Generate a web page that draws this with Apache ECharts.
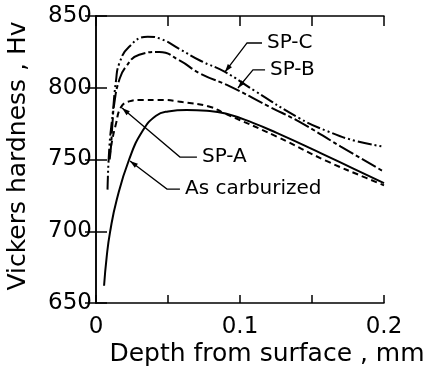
<!DOCTYPE html>
<html>
<head>
<meta charset="utf-8">
<title>Vickers hardness profile</title>
<script src="https://cdn.jsdelivr.net/npm/echarts@6/dist/echarts.min.js"></script>
<style>
  body { margin: 0; background: #fff; }
  #main { width: 429px; height: 372px; }
</style>
</head>
<body>
<div id="main"></div>
<script type="text/javascript">
// depth (mm) / hardness (Hv)
var asCarburized = [[0.0056,662],[0.0074,682],[0.0097,699],[0.0144,722],[0.023,750],[0.0324,770],
  [0.0417,780.5],[0.05,783.5],[0.063,784.5],[0.077,784],[0.09,782],[0.109,775.5],[0.1255,768.5],
  [0.156,754.5],[0.178,744],[0.2,733.5]];
var spA = [[0.0095,752],[0.0104,759],[0.0139,775],[0.0174,786.5],[0.023,790.5],[0.03,791.5],
  [0.045,791.5],[0.06,790],[0.079,786.8],[0.0885,782.5],[0.1255,766],[0.16,749],[0.188,737],[0.2,732]];
var spB = [[0.0095,750],[0.0104,759],[0.0115,776],[0.0127,789],[0.016,805],[0.0208,814.7],
  [0.03,823],[0.044,825],[0.058,819],[0.0722,810],[0.093,801],[0.12,787],[0.1417,776],
  [0.17,759],[0.2,741.5]];
var spC = [[0.008,729],[0.0093,759],[0.0116,782],[0.0139,805],[0.0162,817],[0.023,828.6],
  [0.0359,835.6],[0.045,834],[0.058,827],[0.0722,819],[0.0896,811],[0.11,798],[0.1417,778.5],
  [0.16,770],[0.18,763],[0.2,759]];

// annotation leaders, in data units: label side -> bend -> arrow tip
var notes = ['SP-C', 'SP-B', 'SP-A', 'As carburized'];
var noteEnds = [[0.1153,831.2],[0.1174,812.4],[0.0701,751.7],[0.0583,729.4]];
var noteBends = [[0.1049,831.2],[0.109,812.4],[0.0583,751.7],[0.0493,729.4]];
var noteTips = [[0.0896,811],[0.0986,799.8],[0.0181,785.9],[0.0236,749]];

var FONT = 'DejaVu Sans';
var chart = echarts.init(document.getElementById('main'));

function xLabel(v) {
  var k = Math.round(v * 20);
  if (k % 2) return '';
  return k === 0 ? '0' : (k / 20).toFixed(1);
}

var axisLine = { lineStyle: { color: '#000', width: 1.5 } };

function line(name, data, type) {
  return {
    name: name, type: 'line', data: data,
    showSymbol: false, smooth: 0.5,
    lineStyle: { color: '#000', width: 2, type: type },
    animation: false
  };
}

chart.setOption({
  backgroundColor: '#fff',
  animation: false,
  grid: { left: 96, right: 45, top: 16, bottom: 69 },
  xAxis: [{
    type: 'value', min: 0, max: 0.2, interval: 0.05, position: 'bottom',
    axisLine: axisLine,
    axisTick: { inside: true, length: 8, lineStyle: { color: '#000', width: 1.5 } },
    axisLabel: { formatter: xLabel, color: '#000', fontFamily: FONT, fontSize: 23, margin: 13,
      showMinLabel: true, showMaxLabel: true },
    splitLine: { show: false }
  }, {
    type: 'value', min: 0, max: 0.2, interval: 0.05, position: 'top',
    axisLine: axisLine,
    axisTick: { inside: true, length: 10, lineStyle: { color: '#000', width: 1.5 } },
    axisLabel: { show: false },
    splitLine: { show: false }
  }],
  yAxis: [{
    type: 'value', min: 650, max: 850, interval: 50, position: 'left',
    axisLine: axisLine,
    axisTick: { inside: true, length: 11, lineStyle: { color: '#000', width: 1.5 } },
    axisLabel: { color: '#000', fontFamily: FONT, fontSize: 23, margin: 4,
      showMinLabel: true, showMaxLabel: true },
    splitLine: { show: false }
  }, {
    type: 'value', min: 650, max: 850, interval: 50, position: 'right',
    axisLine: axisLine,
    axisTick: { inside: true, length: 11, lineStyle: { color: '#000', width: 1.5 } },
    axisLabel: { show: false },
    splitLine: { show: false }
  }],
  series: [
    line('As carburized', asCarburized, 'solid'),
    line('SP-A', spA, [6, 4]),
    line('SP-B', spB, [16, 3, 4, 3]),
    line('SP-C', spC, [14, 3, 2, 3, 2, 3])
  ]
});

// axis titles and leader annotations
var g = [{
  type: 'text', x: 18, y: 156, rotation: Math.PI / 2,
  style: { text: 'Vickers hardness , Hv', font: '25px ' + FONT, fill: '#000',
    align: 'center', verticalAlign: 'middle' }
}, {
  type: 'text', x: 267, y: 354,
  style: { text: 'Depth from surface , mm', font: '25px ' + FONT, fill: '#000',
    align: 'center', verticalAlign: 'middle' }
}];

notes.forEach(function (txt, i) {
  var e = chart.convertToPixel({ gridIndex: 0 }, noteEnds[i]);
  var b = chart.convertToPixel({ gridIndex: 0 }, noteBends[i]);
  var t = chart.convertToPixel({ gridIndex: 0 }, noteTips[i]);
  g.push({
    type: 'polyline', shape: { points: [e, b, t] },
    style: { stroke: '#000', lineWidth: 1.3, fill: null }
  });
  var dx = t[0] - b[0], dy = t[1] - b[1], len = Math.sqrt(dx * dx + dy * dy);
  var ux = dx / len, uy = dy / len, L = 8, W = 2.6;
  g.push({
    type: 'polygon',
    shape: { points: [t, [t[0] - ux * L - uy * W, t[1] - uy * L + ux * W],
      [t[0] - ux * L + uy * W, t[1] - uy * L - ux * W]] },
    style: { fill: '#000' }
  });
  g.push({
    type: 'text', x: e[0] + 5, y: e[1],
    style: { text: txt, font: '20px ' + FONT, fill: '#000', verticalAlign: 'middle' }
  });
});

chart.setOption({ graphic: g });
</script>
</body>
</html>
